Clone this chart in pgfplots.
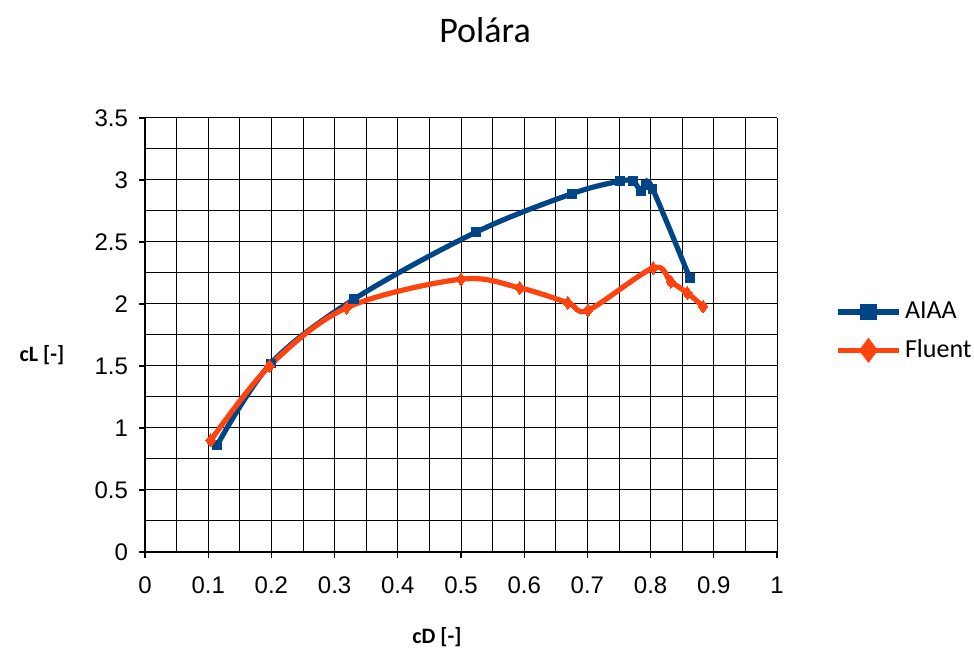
\documentclass[border=0pt]{standalone}
\usepackage{fontspec}
\setmainfont{Carlito}
\newfontfamily\arialf{Liberation Sans}
\usepackage{pgfplots}
\pgfplotsset{compat=1.18}

\definecolor{aiaa}{HTML}{004586}
\definecolor{fluent}{HTML}{FF420E}

\begin{document}
\begin{tikzpicture}
\path[use as bounding box] (0pt,0pt) rectangle (487pt,326pt);
\begin{axis}[
    at={(72.5pt,50pt)}, anchor=origin,
    scale only axis,
    width=316pt, height=217pt,
    xmin=0, xmax=1, ymin=0, ymax=3.5,
    xtick={0,0.1,...,1}, ytick={0,0.5,...,3.5},
    xticklabels={0,0.1,0.2,0.3,0.4,0.5,0.6,0.7,0.8,0.9,1},
    yticklabels={0,0.5,1,1.5,2,2.5,3,3.5},
    minor x tick num=1, minor y tick num=1,
    grid=both,
    major grid style={black, line width=0.5pt},
    minor grid style={black, line width=0.5pt},
    axis line style={black, line width=0.8pt},
    tick style={black, line width=0.6pt},
    tick align=outside,
    major tick length=3pt,
    minor tick length=0pt,
    axis lines*=left,
    ticklabel style={font=\arialf\fontsize{12}{14}\selectfont},
    xticklabel style={yshift=-6pt},
    yticklabel style={xshift=-2pt},
    /pgf/number format/assume math mode=true,
    title={Polára},
    title style={font=\fontsize{18}{20}\selectfont, at={(rel axis cs:0.538,1.175)}, anchor=center},
    xlabel={\textbf{cD [-]}},
    xlabel style={font=\fontsize{11}{13}\selectfont, at={(rel axis cs:0.462,-0.196)}, anchor=center},
    ylabel={\textbf{cL [-]}},
    ylabel style={font=\fontsize{11}{13}\selectfont, at={(rel axis cs:-0.163,0.454)}, anchor=center, rotate=-90},
    legend style={at={(rel axis cs:1.083,0.595)}, anchor=north west, draw=none, fill=none,
        font=\fontsize{13}{15}\selectfont, row sep=5pt},
    legend cell align=left,
    legend image code/.code={
        \draw[#1, mark repeat=2, mark phase=2, mark options={scale=1.3}] plot coordinates {(0pt,0pt) (15pt,0pt) (30pt,0pt)};
    },
    clip=false,
]
\addplot[aiaa, line width=2.6pt, smooth, tension=0.55, mark=square*, mark size=2.2pt,
    mark options={solid, line width=0pt}] coordinates {
    (0.114,0.86) (0.199,1.52) (0.331,2.04) (0.524,2.58) (0.676,2.89)
    (0.751,2.99) (0.772,2.99) (0.785,2.91) (0.793,2.96) (0.803,2.93) (0.862,2.21)
};
\addplot[fluent, line width=2.6pt, smooth, tension=0.55, mark=diamond*, mark size=3.2pt,
    mark options={solid, line width=0pt}] coordinates {
    (0.104,0.90) (0.197,1.50) (0.319,1.97) (0.500,2.20) (0.593,2.13)
    (0.669,2.01) (0.701,1.95) (0.804,2.29) (0.832,2.18) (0.858,2.09) (0.883,1.98)
};
\legend{AIAA, Fluent}
\end{axis}
\end{tikzpicture}
\end{document}
